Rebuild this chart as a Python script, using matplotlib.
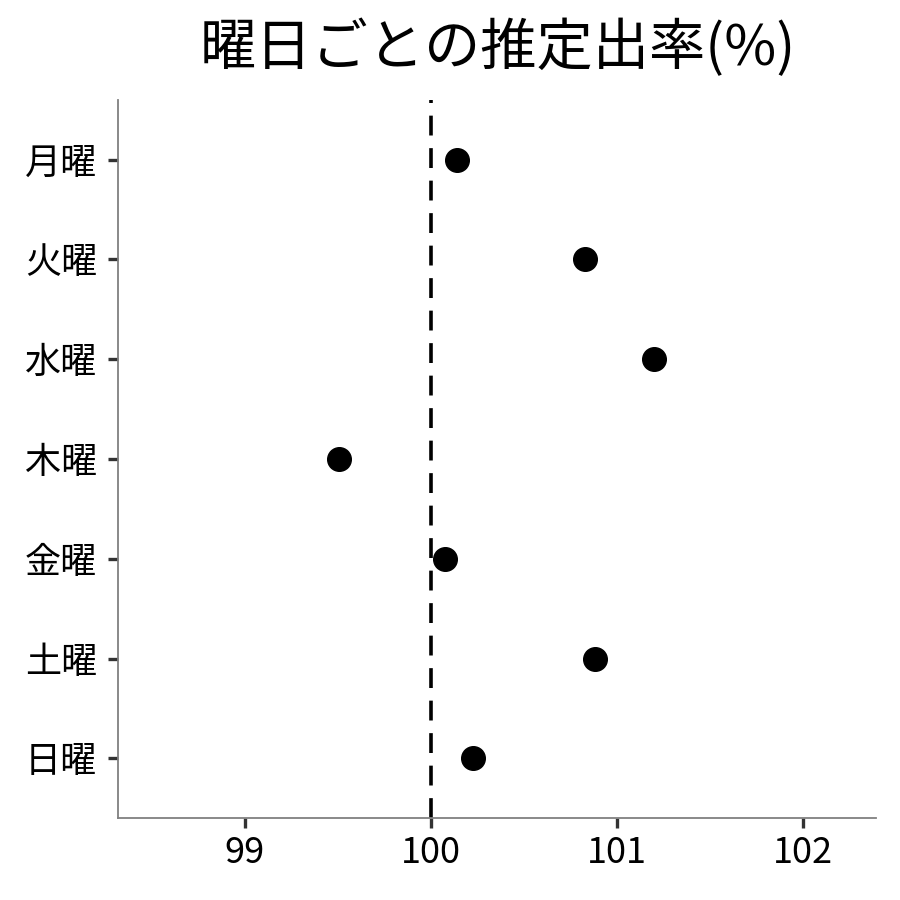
import matplotlib
matplotlib.use("Agg")
import matplotlib.pyplot as plt

plt.rcParams['font.family'] = ['Noto Sans CJK JP', 'DejaVu Sans']

# data
days = ["月曜", "火曜", "水曜", "木曜", "金曜", "土曜", "日曜"]
rates = [100.14, 100.83, 101.20, 99.505, 100.075, 100.88, 100.225]
xticks = [99, 100, 101, 102]

fig = plt.figure(figsize=(9, 9), dpi=100)
ax = fig.add_axes([0.131, 0.091, 0.842, 0.798])

ypos = list(range(len(days), 0, -1))
ax.axvline(100, color="black", linestyle=(0, (5.5, 3.5)), linewidth=2.6, zorder=1)
ax.plot(rates, ypos, "o", color="black", markersize=17, zorder=2)

ax.set_xlim(98.317, 102.39)
ax.set_ylim(0.4, 7.6)
ax.set_yticks(ypos)
ax.set_yticklabels(days)
ax.set_xticks(xticks)
ax.set_xticklabels([str(v) for v in xticks])
ax.tick_params(axis="both", length=7.5, width=2.4, color="#333333",
               labelsize=26, labelcolor="black", pad=5)
ax.tick_params(axis="y", pad=7.5)

for s in ["top", "right"]:
    ax.spines[s].set_visible(False)
for s in ["left", "bottom"]:
    ax.spines[s].set_color("#808080")
    ax.spines[s].set_linewidth(1.3)

fig.text(0.553, 0.946, "曜日ごとの推定出率(%)", fontsize=40.5, ha="center", va="center")

fig.savefig("out.png", dpi=100, facecolor="white")
